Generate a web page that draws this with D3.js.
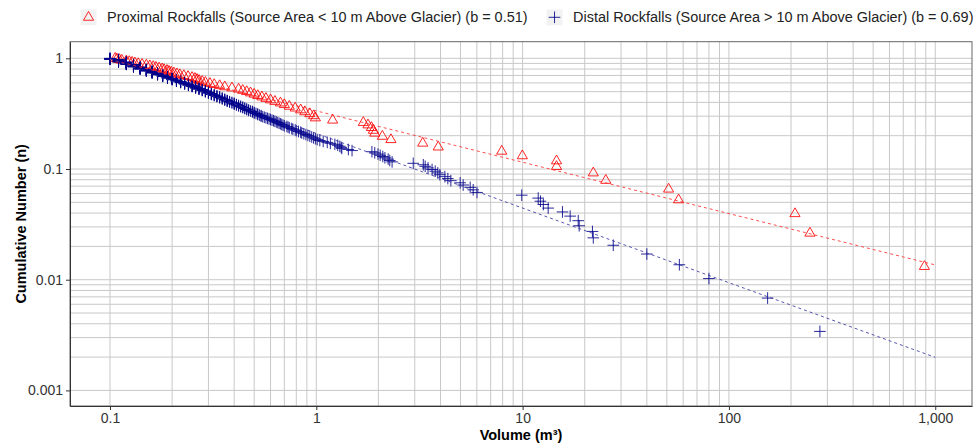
<!DOCTYPE html>
<html>
<head>
<meta charset="utf-8">
<script src="https://cdn.jsdelivr.net/npm/d3@7"></script>
<style>
body { margin: 0; background: #fff; }
text { font-family: "Liberation Sans", Arial, sans-serif; }
</style>
</head>
<body>
<svg id="chart"></svg>
<script>
// rockfall volumes (m3), largest first
const proximalVolumes = [886, 247, 209, 57, 51, 25.3, 22.0, 14.6, 14.6, 9.97, 7.92, 3.90, 3.28, 2.30, 2.09,
    1.92, 1.89, 1.85, 1.78, 1.69, 1.20, 0.99, 0.97, 0.93, 0.88, 0.84, 0.79, 0.74, 0.70, 0.67, 0.63, 0.60,
    0.57, 0.545, 0.52, 0.50, 0.48, 0.46, 0.44, 0.42, 0.39, 0.36, 0.34, 0.32, 0.305, 0.29, 0.28, 0.27, 0.264,
    0.258, 0.25, 0.239, 0.228, 0.218, 0.211, 0.204, 0.198, 0.193, 0.189, 0.183, 0.179, 0.173, 0.167, 0.162,
    0.156, 0.150, 0.143, 0.137, 0.132, 0.128, 0.124, 0.120, 0.114, 0.111, 0.108, 0.106];

const distalVolumes = [276, 154, 80, 57.5, 40, 27.5, 22, 21.8, 18.8, 18.6, 17.0, 15.6, 13.3, 12.6, 12.2, 11.9, 9.9,
    6.01, 5.76, 5.57, 5.15, 4.98, 4.49, 4.34, 4.20, 3.97, 3.88, 3.77, 3.64, 3.48, 3.37, 3.30, 2.95,
    2.33, 2.27, 2.23, 2.15, 2.10, 2.04, 1.99, 1.92, 1.86, 1.49, 1.43, 1.33, 1.32, 1.30, 1.27, 1.23, 1.17, 1.13, 1.08,
    1.04, 1.01, 0.99, 0.97, 0.95, 0.93, 0.91, 0.89, 0.87, 0.85, 0.84, 0.82, 0.80, 0.79, 0.77, 0.76, 0.74,
    0.73, 0.72, 0.70, 0.69, 0.68, 0.67, 0.66, 0.65, 0.64, 0.63];

// small distal volumes are recorded to 0.01 m3, so many repeat
const distalSmallVolumes = [0.62, 0.61, 0.60, 0.59, 0.58, 0.57, 0.56, 0.55, 0.54, 0.53, 0.52, 0.51, 0.50, 0.49,
    0.48, 0.47, 0.46, 0.45, 0.44, 0.43, 0.42, 0.41, 0.40, 0.39, 0.38, 0.37, 0.36, 0.35, 0.34, 0.33, 0.32, 0.31,
    0.30, 0.29, 0.28, 0.27, 0.26, 0.25, 0.24, 0.23, 0.22, 0.21, 0.20, 0.19, 0.18, 0.17, 0.16, 0.15, 0.14, 0.13,
    0.12, 0.11, 0.10];
const distalSmallCounts = [1, 1, 1, 1, 1, 1, 1, 1, 2, 1, 2, 1, 2, 2,
    1, 2, 2, 2, 2, 2, 2, 2, 3, 2, 2, 3, 3, 3, 3, 3, 3, 4,
    4, 4, 4, 4, 5, 4, 5, 5, 5, 6, 6, 7, 7, 8, 9, 9, 11, 13,
    14, 15, 7];

// power-law fits, end points
const fitX = [0.1, 1000];
const proximalFitY = [0.975, 0.0136];
const distalFitY = [0.99, 0.00199];

const xTicks = [0.1, 1, 10, 100, 1000];
const yTicks = [0.001, 0.01, 0.1, 1];
const legendLabels = [
    "Proximal Rockfalls (Source Area < 10 m Above Glacier) (b = 0.51)",
    "Distal Rockfalls (Source Area > 10 m Above Glacier) (b = 0.69)"
];

const red = "#ff0000";
const blue = "#00008b";

const margin = { top: 41.7, right: 1, bottom: 39, left: 70 };
const width = 973 - margin.left - margin.right;
const height = 445 - margin.top - margin.bottom;

const x = d3.scaleLog().domain([0.064, 1507]).range([0, width]);
const y = d3.scaleLog().domain([0.000723, 1.413]).range([height, 0]);

// cumulative number = rank / count
function cumulative(vols) {
    return vols.map((v, i) => ({ v: v, n: (i + 1) / vols.length }));
}

const distalAll = distalVolumes.slice();
distalSmallVolumes.forEach((v, i) => {
    for (let k = 0; k < distalSmallCounts[i]; k++) distalAll.push(v);
});

const proximal = cumulative(proximalVolumes);
const distal = cumulative(distalAll);

const svg = d3.select("#chart")
    .attr("width", 973)
    .attr("height", 445);

const g = svg.append("g")
    .attr("transform", `translate(${margin.left},${margin.top})`);

g.append("clipPath").attr("id", "clip")
    .append("rect").attr("width", width).attr("height", height);

// grid, every 1..9 x 10^k
const xGrid = x.ticks().filter(t => t >= 0.1 && t <= 1000);
const yGrid = y.ticks().filter(t => t >= 0.001 && t <= 1);

g.append("g")
    .selectAll("line")
    .data(xGrid)
    .enter()
    .append("line")
    .attr("x1", d => x(d)).attr("x2", d => x(d))
    .attr("y1", 0).attr("y2", height)
    .attr("stroke", "#c8c8c8");

g.append("g")
    .selectAll("line")
    .data(yGrid)
    .enter()
    .append("line")
    .attr("x1", 0).attr("x2", width)
    .attr("y1", d => y(d)).attr("y2", d => y(d))
    .attr("stroke", "#c8c8c8");

g.append("rect")
    .attr("width", width)
    .attr("height", height)
    .attr("fill", "none")
    .attr("stroke", "#666");

const plot = g.append("g").attr("clip-path", "url(#clip)");

const triangle = d3.symbol(d3.symbolTriangle2, 74);
const plus = d3.symbol(d3.symbolPlus, 46);

plot.selectAll(".prox")
    .data(proximal)
    .enter()
    .append("path")
    .attr("class", "prox")
    .attr("transform", d => `translate(${x(d.v)},${y(d.n)})`)
    .attr("d", triangle)
    .attr("fill", "none")
    .attr("stroke", red)
    .attr("stroke-opacity", 0.85);

plot.selectAll(".dist")
    .data(distal)
    .enter()
    .append("path")
    .attr("class", "dist")
    .attr("transform", d => `translate(${x(d.v)},${y(d.n)})`)
    .attr("d", plus)
    .attr("fill", "none")
    .attr("stroke", blue)
    .attr("stroke-opacity", 0.85);

const line = d3.line()
    .x(d => x(d[0]))
    .y(d => y(d[1]));

plot.append("path")
    .datum(fitX.map((v, i) => [v, proximalFitY[i]]))
    .attr("d", line)
    .attr("fill", "none")
    .attr("stroke", "#ff3030")
    .attr("stroke-opacity", 0.85)
    .attr("stroke-dasharray", "3,3");

plot.append("path")
    .datum(fitX.map((v, i) => [v, distalFitY[i]]))
    .attr("d", line)
    .attr("fill", "none")
    .attr("stroke", "#3a3aa0")
    .attr("stroke-opacity", 0.85)
    .attr("stroke-dasharray", "3,3");

// axes
const xAxis = d3.axisBottom(x)
    .tickValues(xTicks)
    .tickFormat(d3.format(",~g"))
    .tickSize(4)
    .tickSizeOuter(0);

const yAxis = d3.axisLeft(y)
    .tickValues(yTicks)
    .tickFormat(d3.format("~g"))
    .tickSize(4)
    .tickSizeOuter(0);

const gx = g.append("g")
    .attr("transform", `translate(0,${height})`)
    .call(xAxis)
    .attr("font-size", 14)
    .attr("font-family", null);

const gy = g.append("g")
    .call(yAxis)
    .attr("font-size", 14)
    .attr("font-family", null);

[gx, gy].forEach(a => {
    a.select(".domain").attr("stroke", "#333");
    a.selectAll(".tick line").attr("stroke", "#333");
    a.selectAll(".tick text").attr("fill", "#333");
});

g.append("text")
    .attr("x", width / 2)
    .attr("y", height + 34)
    .attr("text-anchor", "middle")
    .attr("font-size", 14.5)
    .attr("font-weight", "bold")
    .text("Volume (m³)");

g.append("text")
    .attr("transform", `translate(${26 - margin.left},${height / 2}) rotate(-90)`)
    .attr("text-anchor", "middle")
    .attr("font-size", 14.5)
    .attr("font-weight", "bold")
    .text("Cumulative Number (n)");

// legend across the top, centred over the panel
const legend = svg.append("g");
const items = legend.selectAll(".legend")
    .data(legendLabels)
    .enter()
    .append("g")
    .attr("class", "legend");

items.append("rect")
    .attr("x", -8).attr("y", -8)
    .attr("width", 16).attr("height", 16)
    .attr("fill", "#f2f2f2");

items.append("path")
    .attr("d", (d, i) => i === 0 ? triangle() : plus())
    .attr("fill", "none")
    .attr("stroke", (d, i) => i === 0 ? red : blue)
    .attr("stroke-opacity", 0.85);

items.append("text")
    .attr("x", 18.5)
    .attr("y", 5)
    .attr("font-size", 14.45)
    .attr("fill", "#222")
    .text(d => d);

const lens = [];
items.select("text").each(function () { lens.push(this.getComputedTextLength()); });
const itemW = lens.map(l => 18.5 + l);
const gap = 27;
const total = 8 + itemW[0] + gap + itemW[1];
const cx = 527 - total / 2 + 8;
items.attr("transform", (d, i) => {
    const pos = i === 0 ? cx : cx + itemW[0] + gap;
    return `translate(${pos},17.3)`;
});
</script>
</body>
</html>
